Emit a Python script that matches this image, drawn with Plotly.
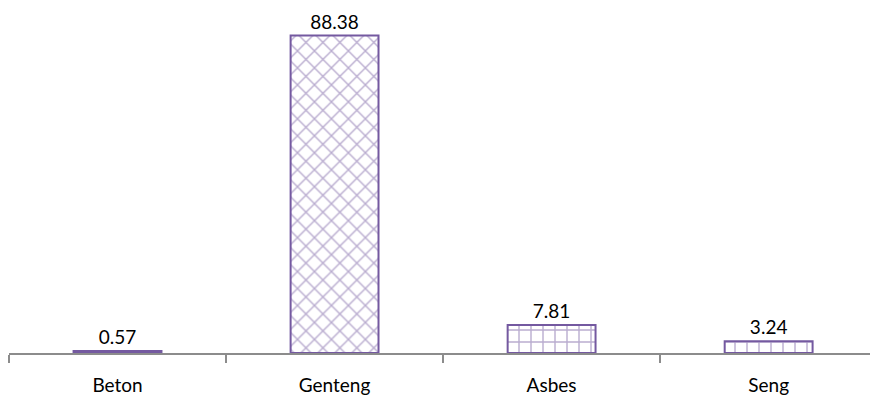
import plotly.graph_objects as go

# Roof material shares (%)
categories = ["Beton", "Genteng", "Asbes", "Seng"]
values = [0.57, 88.38, 7.81, 3.24]
labels = ["0.57", "88.38", "7.81", "3.24"]
patterns = ["+", "x", "+", "+"]

purple = "#7459a0"
axis_gray = "#8c8c8c"
font_family = "Lato, 'Open Sans', sans-serif"

fig = go.Figure(
    go.Bar(
        x=categories,
        y=values,
        text=labels,
        textposition="outside",
        textfont=dict(family=font_family, size=19, color="#000000"),
        cliponaxis=False,
        width=0.405,
        marker=dict(
            color="white",
            line=dict(color=purple, width=2),
            pattern=dict(shape=patterns, fgcolor=purple, bgcolor="white",
                         size=12, solidity=0.22),
        ),
    )
)

fig.update_layout(
    width=870,
    height=401,
    margin=dict(l=9, r=0, t=0, b=48),
    paper_bgcolor="white",
    plot_bgcolor="white",
    showlegend=False,
    font=dict(family=font_family, size=19, color="#000000"),
    xaxis=dict(
        type="category",
        range=[-0.5, 3.467],
        showline=True,
        linecolor=axis_gray,
        linewidth=2,
        ticks="outside",
        tickson="boundaries",
        ticklen=8,
        tickwidth=2,
        tickcolor=axis_gray,
        showgrid=False,
        tickfont=dict(family=font_family, size=19, color="#000000"),
        ticklabelstandoff=14,
    ),
    yaxis=dict(
        range=[0, 98.3],
        visible=False,
        showgrid=False,
        zeroline=False,
    ),
)

fig.write_html("out.html")
